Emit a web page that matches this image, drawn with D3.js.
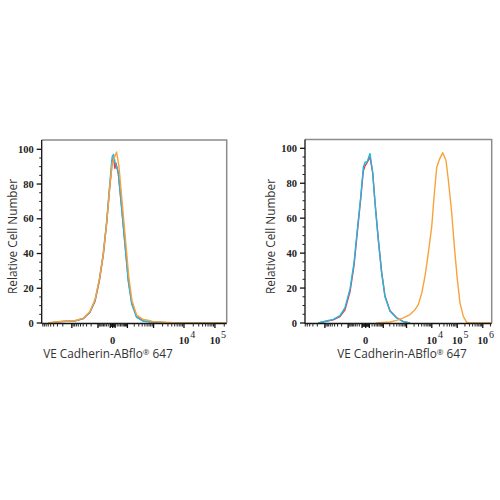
<!DOCTYPE html>
<html>
<head>
<meta charset="utf-8">
<script src="https://cdn.jsdelivr.net/npm/d3@7"></script>
<style>
  body { margin: 0; background: #fff; }
</style>
</head>
<body>
<div id="chart"></div>
<script>
// histogram traces: [fluorescence, % of max]
const leftRed = [[-6000,0],[-4300,0.2],[-2475,0.8],[-1500,1],[-800,1.1],[-397,2.5],[-222,6.2],[-137,12.5],[-86,24],[-51,39],[-28,58],[-11,80],[-6,86],[-2,93],[3,95],[9,89],[14,92],[26,86],[48,66],[75,46],[110,25],[156,12],[249,3.5],[439,1.2],[978,0.6],[2700,0.2],[5000,0],[240000,0]];
const leftCyan = [[-6000,0],[-4000,0.3],[-2475,0.8],[-1500,1],[-800,1.2],[-397,2.6],[-222,6.4],[-137,13],[-86,24.7],[-51,40],[-28,59],[-11,82],[-4,93],[-1.5,96],[4,97],[9,93],[26,87],[48,66],[75,45],[110,24],[156,11],[249,3.2],[439,1],[978,0.6],[2700,0.2],[5000,0],[240000,0]];
const leftOrange = [[-6000,0],[-4300,0.4],[-2475,0.9],[-1500,1],[-800,1.3],[-397,2.8],[-222,6.6],[-137,13.5],[-86,25],[-51,40],[-28,58],[-11,80],[-2,92],[9,96],[17,98.5],[30,90],[52,69],[80,48],[115,27],[160,13],[249,4.5],[439,2],[700,1.5],[978,0.8],[2000,0.5],[3500,0.3],[6000,0],[240000,0]];

const rightRed = [[-1832,0],[-988,0.8],[-454,1.8],[-236,3.6],[-141,7.5],[-80,18],[-48,33],[-29,52],[-14.7,71],[-6.2,87],[-1.7,90],[4,92],[12.2,95],[22.7,86],[33.8,69],[54.5,48],[83,29],[121,15.5],[205,7],[396,3],[741,0.8],[1378,0]];
const rightCyan = [[-1832,0.1],[-988,1],[-454,2.1],[-236,4.2],[-141,8.8],[-80,19.5],[-48,34.5],[-29,53.5],[-14.7,72],[-6.2,89],[-1.7,92],[4,92.4],[12.2,97],[22.7,86],[33.8,69],[54.5,47.5],[83,28.5],[121,15],[205,6.7],[396,2.9],[741,0.8],[1378,0]];
const rightOrange = [[40,0],[205,0.6],[396,1.5],[741,2.9],[1378,4.8],[2180,7.6],[2943,10.5],[4010,17],[5400,26.7],[7300,40],[9920,55],[12240,72],[15600,89],[19740,93.5],[26880,97.5],[36190,93],[44540,82],[60620,63],[76670,44],[100460,25],[128200,11.4],[172700,3.8],[234900,0.4],[316100,0],[2240000,0]];

const yTicks = [0, 20, 40, 60, 80, 100];
const leftXLabels = [0, 4, 5];       // 0 and exponents of 10
const rightXLabels = [0, 4, 5, 6];
const xTitleMain = "VE Cadherin-ABflo";
const xTitleMark = "\u00ae";
const xTitleEnd = " 647";
const yTitle = "Relative Cell Number";
const colors = ["#ee3b3b", "#20b6e4", "#f9a23c"];

const svg = d3.select("#chart").append("svg")
  .attr("width", 500)
  .attr("height", 500);

const panels = [
  { x0: 41.7, x1: 226.7, top: 140, y0: 323, y100: 149.3, domain: [-9780, 240000], c: 50.4,
    labels: leftXLabels, series: [leftRed, leftCyan, leftOrange], titleX: 108, yTitleX: 16.5 },
  { x0: 305, x1: 491.7, top: 139.5, y0: 323, y100: 148.3, domain: [-6140, 2240000], c: 25.7,
    labels: rightXLabels, series: [rightRed, rightCyan, rightOrange], titleX: 402, yTitleX: 275 }
];

panels.forEach((p, idx) => {
  const x = d3.scaleSymlog().constant(p.c).domain(p.domain).range([p.x0, p.x1]);
  const y = d3.scaleLinear().domain([0, 100]).range([p.y0, p.y100]);
  const g = svg.append("g");

  // frame top/right
  g.append("path")
    .attr("d", `M${p.x0},${p.top}H${p.x1}V${p.y0}`)
    .attr("fill", "none")
    .attr("stroke", "#8c8c8c")
    .attr("stroke-width", 1.5);

  const clipId = "clip" + idx;
  svg.append("clipPath").attr("id", clipId)
    .append("rect").attr("x", p.x0).attr("y", p.top).attr("width", p.x1 - p.x0).attr("height", p.y0 - p.top + 1);

  const line = d3.line().x(d => x(d[0])).y(d => y(d[1]));
  p.series.forEach((s, i) => {
    g.append("path")
      .datum(s)
      .attr("clip-path", `url(#${clipId})`)
      .attr("d", line)
      .attr("fill", "none")
      .attr("stroke", colors[i])
      .attr("stroke-width", 1.4)
      .attr("stroke-linejoin", "round");
  });

  // y axis
  g.append("line").attr("x1", p.x0).attr("x2", p.x0).attr("y1", p.top).attr("y2", p.y0 + 0.5)
    .attr("stroke", "#111").attr("stroke-width", 1.3);
  const yMinor = d3.range(0, 101, 5).filter(v => v % 20 !== 0);
  g.selectAll(".ymin").data(yMinor).join("line")
    .attr("x1", p.x0 - 2.5).attr("x2", p.x0)
    .attr("y1", d => y(d)).attr("y2", d => y(d))
    .attr("stroke", "#222").attr("stroke-width", 1);
  g.selectAll(".ymaj").data(yTicks).join("line")
    .attr("x1", p.x0 - 5).attr("x2", p.x0)
    .attr("y1", d => y(d)).attr("y2", d => y(d))
    .attr("stroke", "#111").attr("stroke-width", 1.3);
  g.selectAll(".ylab").data(yTicks).join("text")
    .attr("x", p.x0 - 8).attr("y", d => y(d) + 3.5)
    .attr("text-anchor", "end")
    .attr("font-family", "Liberation Serif")
    .attr("font-weight", "bold")
    .attr("font-size", 10.5)
    .attr("fill", "#222")
    .text(d => d);

  // x axis
  g.append("line").attr("x1", p.x0).attr("x2", p.x1).attr("y1", p.y0 + 0.5).attr("y2", p.y0 + 0.5)
    .attr("stroke", "#111").attr("stroke-width", 1.3);
  const minor = [], major = [];
  for (let n = 0; n <= 6; n++) {
    for (let k = 1; k <= 9; k++) {
      [1, -1].forEach(sg => {
        const v = sg * k * Math.pow(10, n);
        if (v < p.domain[0] || v > p.domain[1]) return;
        if (k === 1 && n >= 1) major.push(v); else minor.push(v);
      });
    }
  }
  major.push(0);
  g.selectAll(".xmin").data(minor).join("line")
    .attr("x1", d => x(d)).attr("x2", d => x(d))
    .attr("y1", p.y0).attr("y2", p.y0 + 3.5)
    .attr("stroke", "#222").attr("stroke-width", 1);
  g.selectAll(".xmaj").data(major).join("line")
    .attr("x1", d => x(d)).attr("x2", d => x(d))
    .attr("y1", p.y0).attr("y2", p.y0 + 5)
    .attr("stroke", "#111").attr("stroke-width", 1.3);

  p.labels.forEach(e => {
    const px = e === 0 ? x(0) : x(Math.pow(10, e));
    g.append("text")
      .attr("x", px).attr("y", 343.5)
      .attr("text-anchor", "middle")
      .attr("font-family", "Liberation Serif")
      .attr("font-weight", "bold")
      .attr("font-size", 10.5)
      .attr("fill", "#222")
      .text(e === 0 ? "0" : "10");
    if (e !== 0) {
      g.append("text")
        .attr("x", px + 6.2).attr("y", 337.5)
        .attr("font-family", "Liberation Serif")
        .attr("font-size", 10)
        .attr("fill", "#222")
        .text(e);
    }
  });

  // titles
  const xt = g.append("text")
    .attr("x", p.titleX).attr("y", 358)
    .attr("text-anchor", "middle")
    .attr("font-family", "Open Sans")
    .attr("font-size", 11.8)
    .attr("fill", "#333");
  xt.append("tspan").text(xTitleMain);
  xt.append("tspan").attr("font-size", 8).attr("dy", -3).text(xTitleMark);
  xt.append("tspan").attr("dy", 3).text(xTitleEnd);

  g.append("text")
    .attr("transform", `translate(${p.yTitleX},236.5) rotate(-90)`)
    .attr("text-anchor", "middle")
    .attr("font-family", "Open Sans")
    .attr("font-size", 11.8)
    .attr("fill", "#333")
    .text(yTitle);
});
</script>
</body>
</html>
